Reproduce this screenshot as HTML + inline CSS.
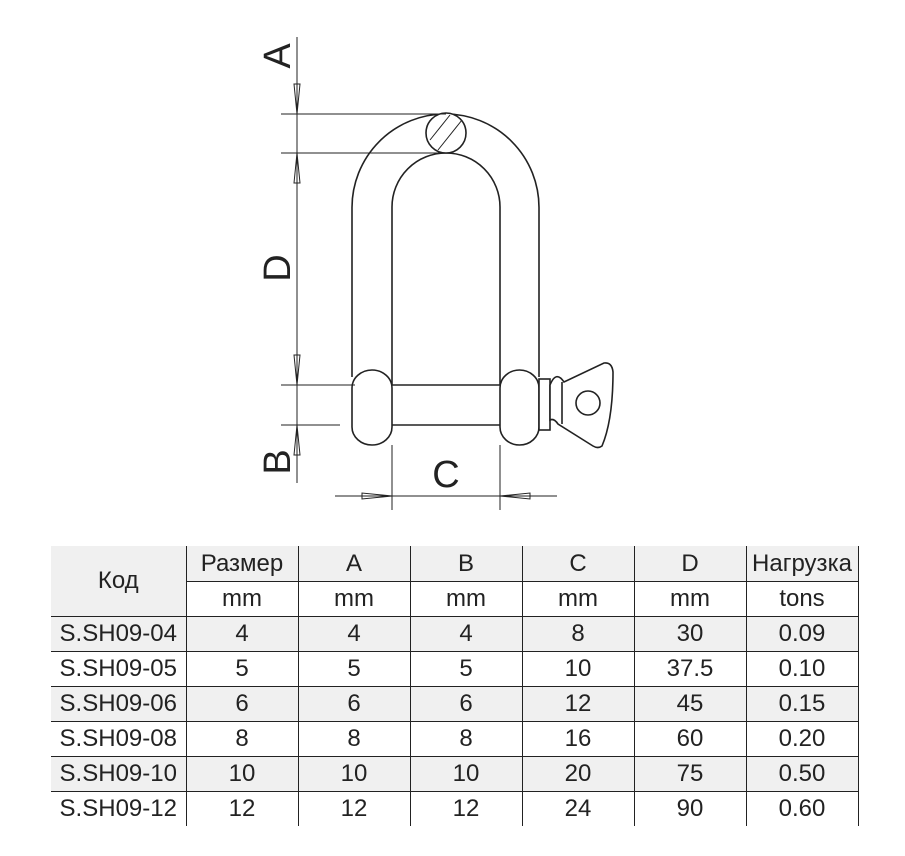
<!DOCTYPE html>
<html><head><meta charset="utf-8"><style>
body{margin:0;background:#fff;width:905px;height:856px;position:relative;overflow:hidden;font-family:"Liberation Sans",Arial,sans-serif}
svg{position:absolute;left:0;top:0}
table{position:absolute;left:51px;top:546px;border-collapse:collapse;font-size:24px;color:#222}
tr{height:35px}
td{height:33px;padding:0;text-align:center;border:1.5px solid #222;border-top:none;border-bottom:none;line-height:33px;white-space:nowrap}
tr+tr td{border-top:1.5px solid #222}
td.first{border-left:none}
.g{background:#f0f0f0}
</style></head><body>
<svg width="905" height="540" viewBox="0 0 905 540" fill="none" stroke="#222" stroke-width="1.6">
<path d="M352 377 V207.5 A93.5 93.5 0 0 1 539 207.5 V377"/>
<path d="M392 385 V207 A54 54 0 0 1 500 207 V385"/>
<line x1="392" y1="385" x2="500" y2="385"/><line x1="392" y1="425" x2="500" y2="425"/>
<rect x="352" y="370" width="40" height="75" rx="20" ry="18" fill="#fff"/>
<rect x="500" y="370" width="39" height="75" rx="20" ry="18" fill="#fff"/>
<rect x="539" y="379" width="11" height="51" fill="#fff"/>
<path d="M550 385 Q556 370 564 382 L604 363 Q612 362 613 372 Q613 420 602 446 Q598 449 593 446 L558 424 Q554 418 550 420 Z" fill="#fff"/>
<line x1="562" y1="382" x2="562" y2="424"/>
<circle cx="588" cy="403" r="12"/>
<circle cx="446" cy="133" r="20" fill="#fff"/>
<line x1="430" y1="140" x2="450" y2="115" stroke-width="1"/><line x1="438" y1="150" x2="462" y2="120" stroke-width="1"/>
<g stroke-width="1">
<line x1="297" y1="37" x2="297" y2="483"/>
<line x1="281" y1="114" x2="446" y2="114"/><line x1="281" y1="153" x2="446" y2="153"/>
<line x1="281" y1="385" x2="355" y2="385"/><line x1="281" y1="425" x2="340" y2="425"/>
<line x1="392" y1="445" x2="392" y2="510"/><line x1="500" y1="445" x2="500" y2="510"/>
<line x1="335" y1="496" x2="557" y2="496"/>
<path d="M294 84 L300 84 L297 114 Z"/>
<path d="M294 183 L300 183 L297 153 Z"/>
<path d="M294 355 L300 355 L297 385 Z"/>
<path d="M294 455 L300 455 L297 425 Z"/>
<path d="M362 493 L362 499 L392 496 Z"/>
<path d="M530 493 L530 499 L500 496 Z"/>
</g>
<g fill="#222" stroke="none" font-family="Liberation Sans, Arial, sans-serif" font-size="38">
<text transform="translate(290 56) rotate(-90)" text-anchor="middle">A</text>
<text transform="translate(290 268) rotate(-90)" text-anchor="middle">D</text>
<text transform="translate(290 462) rotate(-90)" text-anchor="middle">B</text>
<text x="446" y="487" text-anchor="middle">C</text>
</g>
</svg>
<table>
<colgroup><col style="width:135px"><col style="width:112px"><col style="width:112px"><col style="width:112px"><col style="width:112px"><col style="width:112px"><col style="width:112px"></colgroup>
<tr class="g"><td class="first" rowspan="2">Код</td><td>Размер</td><td>A</td><td>B</td><td>C</td><td>D</td><td>Нагрузка</td></tr>
<tr><td>mm</td><td>mm</td><td>mm</td><td>mm</td><td>mm</td><td>tons</td></tr>
<tr class="g"><td class="first">S.SH09-04</td><td>4</td><td>4</td><td>4</td><td>8</td><td>30</td><td>0.09</td></tr>
<tr><td class="first">S.SH09-05</td><td>5</td><td>5</td><td>5</td><td>10</td><td>37.5</td><td>0.10</td></tr>
<tr class="g"><td class="first">S.SH09-06</td><td>6</td><td>6</td><td>6</td><td>12</td><td>45</td><td>0.15</td></tr>
<tr><td class="first">S.SH09-08</td><td>8</td><td>8</td><td>8</td><td>16</td><td>60</td><td>0.20</td></tr>
<tr class="g"><td class="first">S.SH09-10</td><td>10</td><td>10</td><td>10</td><td>20</td><td>75</td><td>0.50</td></tr>
<tr><td class="first">S.SH09-12</td><td>12</td><td>12</td><td>12</td><td>24</td><td>90</td><td>0.60</td></tr>
</table>
</body></html>
